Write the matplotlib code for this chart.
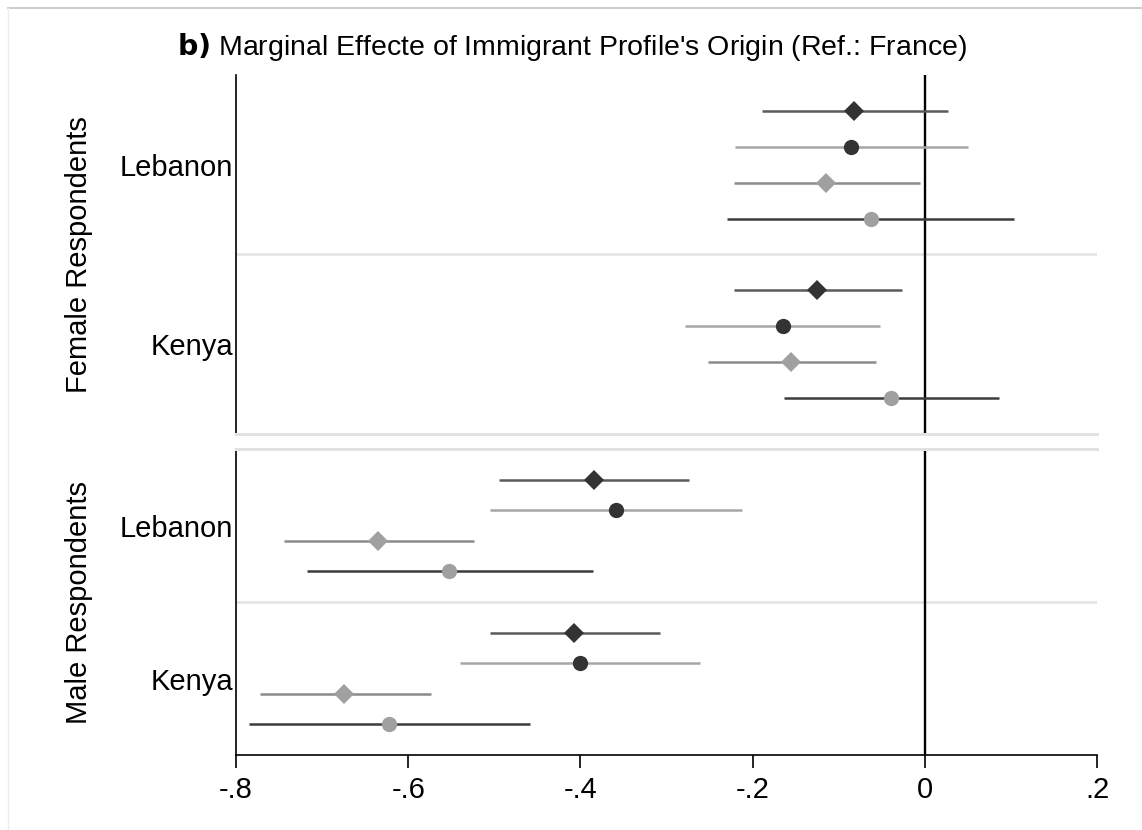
import matplotlib
matplotlib.use("Agg")
import matplotlib.pyplot as plt
from matplotlib.lines import Line2D

plt.rcParams['font.family'] = ['Liberation Sans', 'DejaVu Sans']

# ---- data ----
origins = ["Lebanon", "Kenya"]
panels = ["Female Respondents", "Male Respondents"]
x_ticks = [-0.8, -0.6, -0.4, -0.2, 0.0, 0.2]
x_ticklabels = ["-.8", "-.6", "-.4", "-.2", "0", ".2"]

# four estimates per origin (rows top to bottom): point, lower CI, upper CI
female_lebanon_est = [-0.082, -0.086, -0.115, -0.063]
female_lebanon_lo = [-0.189, -0.221, -0.222, -0.230]
female_lebanon_hi = [0.027, 0.050, -0.006, 0.104]
female_kenya_est = [-0.125, -0.165, -0.155, -0.039]
female_kenya_lo = [-0.222, -0.278, -0.252, -0.163]
female_kenya_hi = [-0.027, -0.052, -0.057, 0.086]

male_lebanon_est = [-0.384, -0.359, -0.635, -0.553]
male_lebanon_lo = [-0.495, -0.505, -0.744, -0.718]
male_lebanon_hi = [-0.274, -0.212, -0.524, -0.385]
male_kenya_est = [-0.407, -0.401, -0.674, -0.622]
male_kenya_lo = [-0.505, -0.540, -0.772, -0.785]
male_kenya_hi = [-0.307, -0.261, -0.574, -0.459]

# styles per row
markers = ["D", "o", "D", "o"]
marker_colors = ["#333333", "#333333", "#a0a0a0", "#a0a0a0"]
line_colors = ["#5a5a5a", "#a6a6a6", "#8a8a8a", "#3c3c3c"]
marker_sizes = [10.3, 11.0, 10.3, 11.0]

W, H = 1142, 830
fig = plt.figure(figsize=(W / 100, H / 100), dpi=100)

# light outer frame (top and left only visible)
fig.add_artist(Line2D([8 / W, 1.0], [1 - 8 / H, 1 - 8 / H],
                      transform=fig.transFigure, color="#c8c8c8", linewidth=1.3))
fig.add_artist(Line2D([8 / W, 8 / W], [0.0, 1 - 8 / H],
                      transform=fig.transFigure, color="#eeeeee", linewidth=1.0))

def ax_rect(l, t, r, b):
    return [l / W, 1 - b / H, (r - l) / W, (b - t) / H]

ax_top = fig.add_axes(ax_rect(236, 75, 1097, 434))
ax_bot = fig.add_axes(ax_rect(236, 449, 1097, 755))

data = {
    "Female Respondents": [
        (female_lebanon_est, female_lebanon_lo, female_lebanon_hi),
        (female_kenya_est, female_kenya_lo, female_kenya_hi),
    ],
    "Male Respondents": [
        (male_lebanon_est, male_lebanon_lo, male_lebanon_hi),
        (male_kenya_est, male_kenya_lo, male_kenya_hi),
    ],
}

FS = 21
for ax, panel in zip([ax_top, ax_bot], panels):
    ax.set_xlim(-0.8, 0.2)
    ax.set_ylim(10, 0)
    ax.axvline(0, color="black", linewidth=1.7, zorder=1)
    for gi, (est, lo, hi) in enumerate(data[panel]):
        base = 1 + gi * 5
        for r in range(4):
            y = base + r
            ax.plot([lo[r], hi[r]], [y, y], color=line_colors[r],
                    linewidth=1.8, solid_capstyle="butt", zorder=2)
            ax.plot([est[r]], [y], marker=markers[r], color=marker_colors[r],
                    markersize=marker_sizes[r], markeredgewidth=0, zorder=3)
    ax.set_yticks([2.5, 7.5])
    ax.set_yticklabels(origins, fontsize=FS)
    ax.tick_params(axis="y", length=0, pad=2)
    ax.set_ylabel(panel, fontsize=FS)
    ax.yaxis.set_label_coords(-0.166, 0.5)
    for s in ["top", "right"]:
        ax.spines[s].set_visible(False)
    ax.spines["left"].set_linewidth(1.2)

# grid-like separators
ax_top.axhline(5, color="#e2e2e2", linewidth=1.8, zorder=0)
ax_top.spines["bottom"].set_color("#e2e2e2")
ax_top.spines["bottom"].set_linewidth(2.2)
ax_top.set_xticks([])
ax_bot.axhline(5, color="#e2e2e2", linewidth=1.8, zorder=0)
ax_bot.spines["top"].set_visible(True)
ax_bot.spines["top"].set_color("#e2e2e2")
ax_bot.spines["top"].set_linewidth(2.2)
ax_bot.spines["bottom"].set_linewidth(1.2)
ax_bot.set_xticks(x_ticks)
ax_bot.set_xticklabels(x_ticklabels, fontsize=FS)
ax_bot.tick_params(axis="x", length=9, width=1.2, pad=6)

fig.text(572 / W, 1 - 47 / H,
         r"$\bf{b)}$ Marginal Effecte of Immigrant Profile's Origin (Ref.: France)",
         ha="center", va="center", fontsize=20.5)

fig.savefig("out.png", dpi=100)
